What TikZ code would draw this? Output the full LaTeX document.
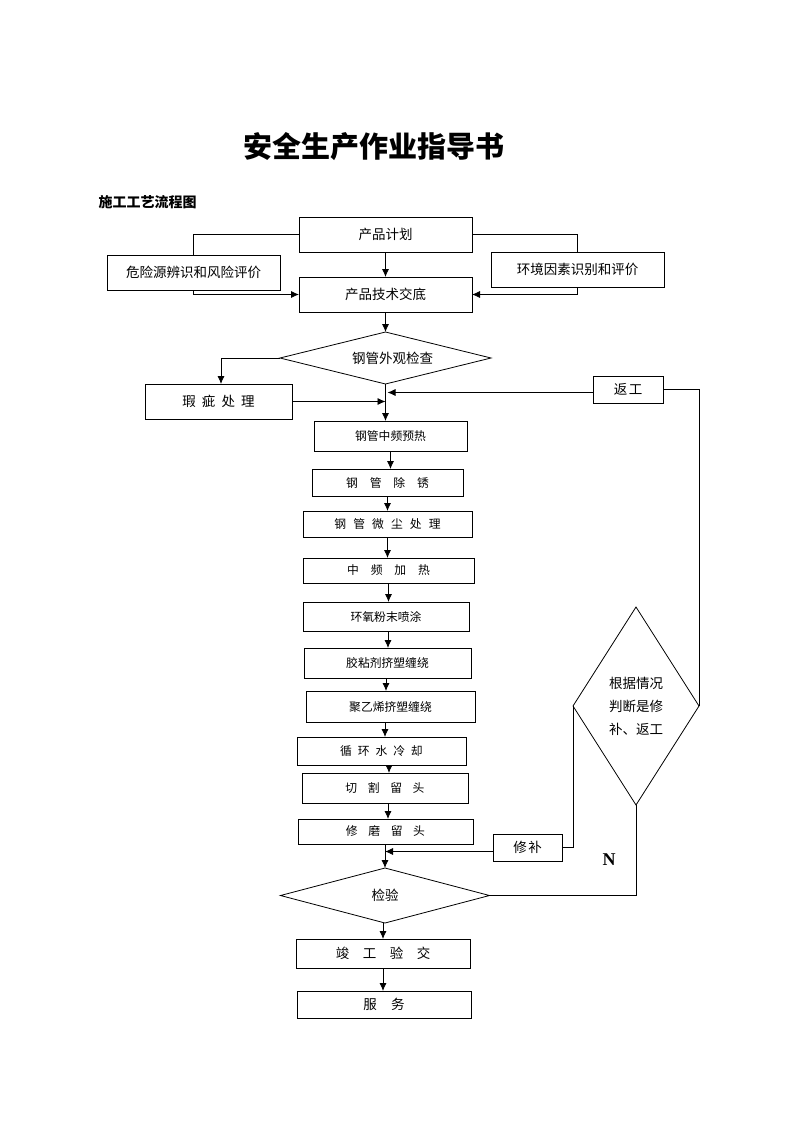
\documentclass[tikz,border=0pt]{standalone}
\usepackage{fontspec}
\setmainfont{Noto Sans CJK SC}
\newfontfamily\tnr{Liberation Serif}
\usetikzlibrary{shapes.geometric,arrows.meta,calc}
\begin{document}
\begin{tikzpicture}[x=1pt,y=-1pt,
  line width=0.8pt,
  box/.style={draw,rectangle,inner sep=0pt,outer sep=0pt,font=\fontsize{13.5}{16}\selectfont},
  sbox/.style={box,font=\fontsize{11.8}{14}\selectfont},
  dia/.style={draw,diamond,inner sep=0pt,outer sep=0pt,font=\fontsize{13.5}{16}\selectfont},
  arr/.style={-{Latex[length=8pt,width=7pt]}},
  wh/.style 2 args={minimum width=#1pt,minimum height=#2pt}]
\useasboundingbox (0,0) rectangle (793,1122);

\node[font=\fontsize{29}{32}\selectfont\bfseries] (title) at (373.5,147) {安全生产作业指导书};
\node[anchor=west,font=\fontsize{14}{16}\selectfont\bfseries] (sub) at (95,202) {施工工艺流程图};

\node[box,wh={173}{35}] (plan) at (385.5,234.5) {产品计划};
\node[box,wh={173}{35}] (risk) at (193.5,272.5) {危险源辨识和风险评价};
\node[box,wh={173}{35}] (env) at (577.5,269.5) {环境因素识别和评价};
\node[box,wh={173}{35}] (tech) at (385.5,294.5) {产品技术交底};
\node[dia,aspect=4,wh={211}{52}] (check) at (385.5,358) {\hspace*{14pt}钢管外观检查};
\node[box,wh={147}{35}] (flaw) at (218.5,401.5) {瑕\hspace{0.45em}疵\hspace{0.45em}处\hspace{0.45em}理};
\node[box,wh={70}{27}] (rework) at (628,389.5) {返\hspace{1.5pt}工};

\node[sbox,wh={153}{30}] (preheat) at (390.5,436) {钢管中频预热};
\node[sbox,wh={151}{27}] (rust) at (387.5,482.5) {钢\hspace{1em}管\hspace{1em}除\hspace{1em}锈};
\node[sbox,wh={169}{26}] (dust) at (387.5,524) {钢\hspace{0.6em}管\hspace{0.6em}微\hspace{0.6em}尘\hspace{0.6em}处\hspace{0.6em}理};
\node[sbox,wh={171}{25}] (heat) at (388.5,570.5) {中\hspace{1em}频\hspace{1em}加\hspace{1em}热};
\node[sbox,wh={166}{29}] (epoxy) at (386,616.5) {环氧粉末喷涂};
\node[sbox,wh={167}{30}] (glue) at (387.5,663) {胶粘剂挤塑缠绕};
\node[sbox,wh={169}{31}] (pe) at (390.5,706.5) {聚乙烯挤塑缠绕};
\node[sbox,wh={169}{28}] (cool) at (381.5,751) {循\hspace{0.5em}环\hspace{0.5em}水\hspace{0.5em}冷\hspace{0.5em}却};
\node[sbox,wh={166}{30}] (cut) at (385,788) {切\hspace{0.9em}割\hspace{0.9em}留\hspace{0.9em}头};
\node[sbox,wh={175}{25}] (grind) at (385.5,831.5) {修\hspace{0.9em}磨\hspace{0.9em}留\hspace{0.9em}头};
\node[box,wh={69}{27}] (repair) at (527.5,847.5) {修\hspace{1.5pt}补};
\node[dia,aspect=0.64,wh={126}{198},align=center,font=\fontsize{13.5}{23}\selectfont] (judge) at (636,706) {根据情况\\判断是修\\补、返工};
\node[dia,aspect=4,wh={209}{55}] (inspect) at (385,895.5) {检验};
\node[box,wh={174}{29}] (accept) at (383,953.5) {竣\hspace{1em}工\hspace{1em}验\hspace{1em}交};
\node[box,wh={174}{27}] (service) at (384,1004.5) {服\hspace{1.05em}务};
\node[font=\fontsize{18}{20}\selectfont\tnr\bfseries] (nlab) at (609,860) {N};

% top part
\draw (plan.west) -| (risk.north);
\draw[arr] (risk.south) |- (tech.west);
\draw (plan.east) -| (env.north);
\draw[arr] (env.south) |- (tech.east);
\draw[arr] (plan.south) -- (tech.north);
\draw[arr] (tech.south) -- (check.north);
\draw[arr] (check.west) -| ([xshift=2.5pt]flaw.north);
\draw[arr] (check.south) -- (check.south |- preheat.north);
\coordinate (j1) at (check.south |- flaw.east);
\draw[arr] (flaw.east) -- (j1);
\coordinate (j2) at ([xshift=2pt]check.south |- rework.west);
\draw[arr] ([yshift=-3pt]rework.west) -- ([yshift=-3pt]j2);
\draw (rework.east) -| (judge.east);

% column
\draw[arr] (preheat.south) -- (preheat.south |- rust.north);
\draw[arr] (rust.south) -- (rust.south |- dust.north);
\draw[arr] (dust.south) -- (dust.south |- heat.north);
\draw[arr] (heat.south) -- (heat.south |- epoxy.north);
\draw[arr] ([xshift=2pt]epoxy.south) -- ([xshift=2pt]epoxy.south |- glue.north);
\draw[arr] ([xshift=-1.5pt]glue.south) -- ([xshift=-1.5pt]glue.south |- pe.north);
\draw[arr] ([xshift=-5.5pt]pe.south) -- ([xshift=-5.5pt]pe.south |- cool.north);
\draw[arr] ([xshift=7.5pt]cool.south) -- ([xshift=7.5pt]cool.south |- cut.north);
\draw[arr] ([xshift=3pt]cut.south) -- ([xshift=3pt]cut.south |- grind.north);
\draw[arr] (grind.south -| inspect.north) -- (inspect.north);

% repair loop
\draw (judge.west) |- (repair.east);
\coordinate (j3) at (inspect.north |- repair.west);
\draw[arr] ([yshift=-4pt]repair.west) -- ([yshift=-4pt]j3);
\draw (judge.south) |- (inspect.east);

% bottom
\draw[arr] (inspect.south -| accept.north) -- (accept.north);
\draw[arr] (accept.south) -- (accept.south |- service.north);
\end{tikzpicture}
\end{document}
